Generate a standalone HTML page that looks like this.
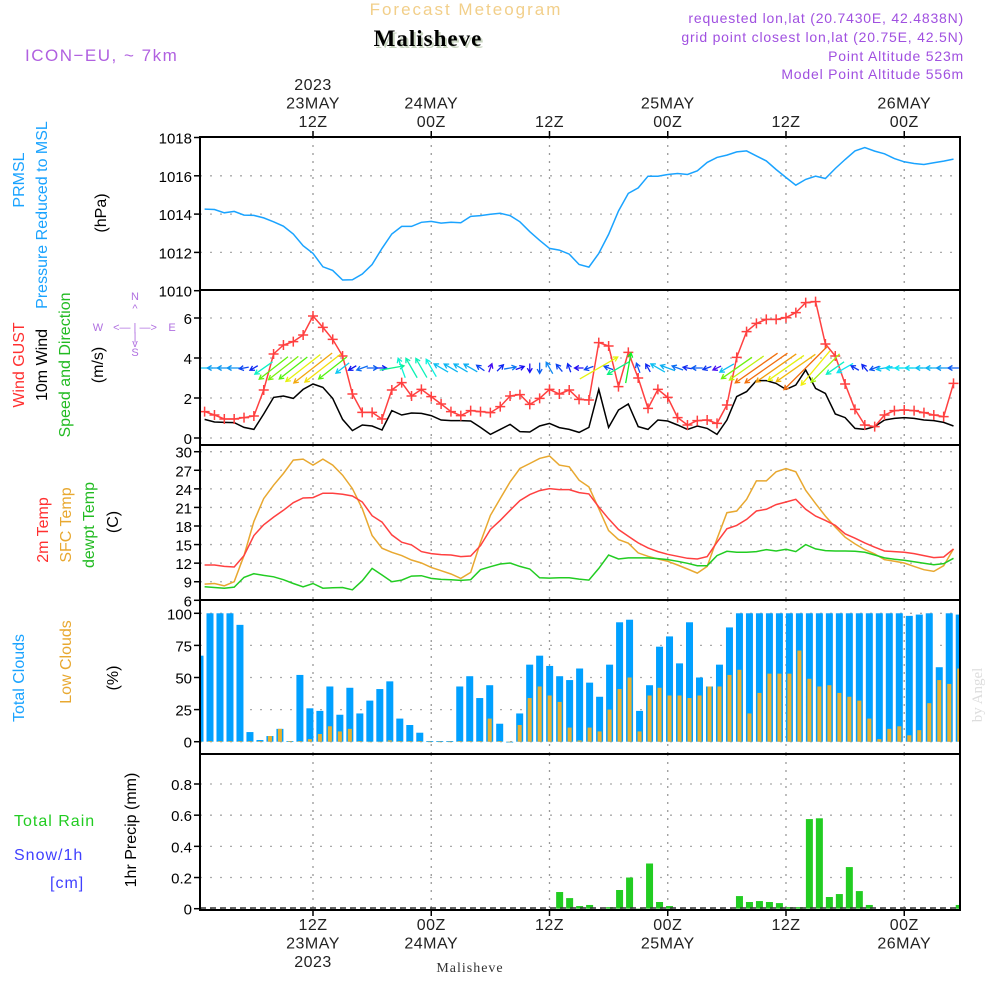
<!DOCTYPE html>
<html><head><meta charset="utf-8"><style>
body{margin:0;background:#fff;}
svg text{font-family:"Liberation Sans",sans-serif;}
</style></head><body>
<svg id="chart" width="1000" height="1000" viewBox="0 0 1000 1000" xmlns="http://www.w3.org/2000/svg">
<g>
<text x="466" y="15" text-anchor="middle" font-size="17" fill="#f2cf8a" letter-spacing="2">Forecast Meteogram</text>
<text x="430" y="48" text-anchor="middle" font-size="23" font-weight="bold" style="font-family:'Liberation Serif',serif" fill="#c8d4c0" letter-spacing="1">Malisheve</text>
<text x="428" y="46" text-anchor="middle" font-size="23" font-weight="bold" style="font-family:'Liberation Serif',serif" fill="#000" letter-spacing="1">Malisheve</text>
<text x="25" y="61" font-size="17" fill="#b060e0" letter-spacing="1.5">ICON−EU, ~ 7km</text>
<g font-size="14" fill="#a050e0" text-anchor="end" letter-spacing="0.8">
<text x="964" y="23">requested lon,lat (20.7430E, 42.4838N)</text>
<text x="964" y="42">grid point closest lon,lat (20.75E, 42.5N)</text>
<text x="964" y="61">Point Altitude 523m</text>
<text x="964" y="79">Model Point Altitude 556m</text>
</g>
</g>
<g id="plot"></g>
</svg>
<script>
const hours=[];for(let h=1;h<=77;h++)hours.push(h);
const pressure=[1014.26,1014.24,1014.07,1014.14,1013.95,1013.93,1013.8,1013.6,1013.37,1012.96,1012.35,1011.95,1011.25,1011.06,1010.56,1010.57,1010.87,1011.37,1012.21,1012.96,1013.36,1013.36,1013.57,1013.62,1013.53,1013.57,1013.55,1013.88,1013.92,1013.99,1014.04,1013.92,1013.6,1013.08,1012.63,1012.21,1012.12,1011.91,1011.37,
1011.23,1011.95,1012.94,1014.16,1015.08,1015.37,1015.98,1015.98,1016.07,1016.12,1016.07,1016.26,1016.7,1016.96,1017.08,1017.25,1017.3,1017.04,1016.78,1016.33,1015.91,1015.51,1015.81,1015.98,1015.86,1016.38,1016.85,1017.3,1017.48,1017.29,1017.15,1016.9,1016.73,1016.64,1016.59,1016.68,1016.77,1016.87];
const gust=[1.32,1.15,0.95,0.95,1.02,1.1,2.4,4.2,4.65,4.82,5.15,6.1,5.53,4.93,4.1,2.2,1.28,1.28,0.95,2.4,2.77,2.1,2.43,2.07,1.7,1.32,1.12,1.37,1.32,1.27,1.57,2.1,2.17,1.68,1.98,2.43,2.2,2.4,1.93,
1.9,4.77,4.6,2.57,4.28,3.0,1.48,2.43,2.03,1.02,0.65,0.87,0.9,0.73,1.65,4.03,5.32,5.73,5.93,5.93,6.02,6.27,6.77,6.82,4.7,4.1,2.7,1.43,0.65,0.57,1.15,1.37,1.4,1.37,1.27,1.15,1.07,2.73];
const wind=[0.93,0.8,0.78,0.77,0.53,0.43,1.2,2.03,2.1,1.98,2.43,2.7,2.53,1.98,0.93,0.37,0.65,0.6,0.4,1.37,1.15,1.25,1.23,1.12,0.9,0.87,0.87,0.85,0.53,0.18,0.43,0.68,0.32,0.3,0.6,0.73,0.52,0.43,0.28,
0.53,2.43,0.53,1.4,1.7,0.57,0.43,0.9,0.85,0.65,0.43,0.6,0.48,0.18,0.9,2.07,2.32,2.87,2.87,2.73,2.43,2.65,3.4,2.48,2.23,1.2,1.02,0.48,0.43,0.57,0.9,0.98,1.02,0.98,0.9,0.87,0.78,0.6];
const windDir=[270,270,270,270,260,240,235,232,232,232,232,232,232,232,232,240,250,90,90,80,340,330,330,330,300,300,300,300,305,20,45,80,70,180,180,330,320,340,
270,250,60,290,240,10,340,330,300,290,290,280,270,250,245,240,235,235,235,235,235,235,235,225,220,225,235,240,300,320,250,260,270,270,270,270,270,270,270];
const temp2m=[11.7,11.7,11.48,11.38,13.22,16.46,18.2,19.44,20.53,21.77,22.53,22.58,23.29,23.29,23.12,22.85,21.88,19.66,18.63,16.57,15.38,14.95,13.86,13.54,13.38,13.32,13.05,13.16,14.84,17.44,18.9,20.53,22.1,23.07,23.72,24.04,23.88,23.88,23.39,
23.18,21.07,19.17,17.44,16.36,15.27,14.46,13.87,13.43,13.11,12.78,12.67,13.05,15.38,17.55,18.09,19.06,20.42,20.69,21.45,21.88,22.31,20.69,19.6,18.9,18.09,16.74,16.03,15.27,14.57,13.97,13.87,13.76,13.54,13.22,12.89,13.0,14.3];
const tempSfc=[8.61,8.72,8.34,9.0,13.22,18.74,22.42,24.59,26.48,28.65,28.81,27.83,28.81,27.83,26.21,24.04,20.8,16.46,14.41,13.76,13.22,12.51,12.02,11.32,10.78,10.24,9.53,10.51,15.38,19.71,22.42,25.13,27.29,28.1,28.92,29.3,27.83,27.56,25.4,
24.32,20.8,17.28,15.81,15.22,13.65,13.11,12.67,12.3,11.7,11.05,10.4,11.48,15.92,20.15,20.42,22.31,25.29,25.29,26.75,27.29,26.75,23.77,21.61,19.6,17.82,16.19,15.11,14.19,13.49,12.57,12.3,12.02,11.48,10.94,10.67,11.59,14.3];
const dewpt=[8.18,8.07,7.96,8.13,9.7,10.29,10.02,9.8,9.32,8.72,8.18,8.72,7.96,8.02,8.07,7.69,9.16,11.16,10.08,9.0,9.26,9.91,9.97,9.53,9.37,9.32,9.21,9.32,10.94,11.43,11.86,12.02,11.48,11.05,9.64,9.59,9.64,9.64,9.43,
9.26,11.16,13.32,12.67,12.84,12.84,12.84,12.73,12.57,12.3,11.97,11.59,11.59,13.22,13.92,13.76,13.76,13.87,14.19,13.97,14.24,13.87,15.0,14.3,14.03,13.97,13.97,13.92,13.76,13.32,12.84,12.62,12.46,12.24,11.97,11.75,11.92,12.78];
const cloudTotal=[67,100,100,100,91,7.5,1.3,4.4,10,0.5,52,26,24,43,21,42,22,32,41,47,18,13,7,0.5,0.5,0.5,43,51,34,44,14,0,22,60,67,59,51,48,57,
46,35,60,93,95,24,44,74,82,61,93,50,43,60,89,100,100,100,100,100,100,100,100,100,100,100,100,100,100,100,100,100,98,99,100,58,100,99];
const cloudLow=[0,0.5,0.5,0.5,0.5,0.5,0.5,4.4,10,0.5,0.5,2,6,12,8,10,0.5,0,0,1,0.5,0.5,0.5,0,0,0,0.5,0.5,0.5,18,0.5,0,13,34,43,36,31,11,1,
11,8,25,41,50,8,36,42,36,36,34,36,43,43,52,56,22,38,53,53,53,71,49,43,44,38,35,32,18,2,10,12,5,9,30,48,45,57];
const precip=[0,0,0,0,0,0,0,0,0,0,0,0,0,0,0,0,0,0,0,0,0,0,0,0,0,0,0,0,0,0,0,0,0,0,0,0,
0.107,0.068,0.017,0.024,0,0.01,0.12,0.2,0.002,0.29,0.043,0.017,0,0,0,0,0,0,0.081,0.043,0.049,0.043,0.036,0.01,0.01,0.575,0.58,0.075,0.094,0.267,0.113,0.024,0,0,0,0,0,0,0,0,0.024];
const pTicks=[1010,1012,1014,1016,1018];
const wTicks=[0,2,4,6];
const tTicks=[6,9,12,15,18,21,24,27,30];
const cTicks=[0,25,50,75,100];
const rTicks=[0,0.2,0.4,0.6,0.8];

const NS='http://www.w3.org/2000/svg';
const plot=document.getElementById('plot');
function mk(tag,attrs,parent){const e=document.createElementNS(NS,tag);for(const k in attrs)e.setAttribute(k,attrs[k]);(parent||plot).appendChild(e);return e;}
const L=200,R=960;
function xh(h){return 313+(h-12)*9.854;}
function bx(k){return 200+k*9.99;}
function lin(v0,y0,v1,y1){return v=>y0+(v-v0)*(y1-y0)/(v1-v0);}
const yP=lin(1010,290.7,1018,137.5);
const yW=lin(0,438,6,318);
const yT=lin(30,451.7,6,600.3);
const yC=lin(0,741.7,100,613.3);
const yR=lin(0,908.7,0.8,784);
const panels=[{n:'pressure',t:137,b:290},{n:'wind',t:290,b:445},{n:'temperature',t:445,b:600},{n:'clouds',t:600,b:754},{n:'precip',t:754,b:910}];
const defsEl=mk('defs',{});
panels.forEach(p=>{const c=mk('clipPath',{id:'clip-'+p.n},defsEl);mk('rect',{x:L,y:p.t,width:R-L,height:p.b-p.t},c);});

function grid(p,ticks,yf,fmt){
  const g=mk('g',{});
  
  
  ticks.forEach(t=>{const y=yf(t);
    if(y>p.t+1&&y<p.b-1){mk('line',{x1:L,x2:R,y1:y,y2:y,stroke:'#aaa','stroke-dasharray':'2,8','stroke-width':1.3},g);}
    const tx=mk('text',{x:192,y:y+6,'text-anchor':'end','font-size':15,fill:'#000'},g);
    
    
    tx.textContent=fmt?fmt(t):t;
    mk('line',{x1:L-6,x2:L,y1:y,y2:y,stroke:'#000','stroke-width':1.5},g);
  });
  [12,24,36,48,60,72].forEach(h=>{mk('line',{x1:xh(h),x2:xh(h),y1:p.t,y2:p.b,stroke:'#999','stroke-dasharray':'2,6','stroke-width':1.3},g);});
}
const gP=panels[0],gW=panels[1],gT=panels[2],gC=panels[3],gR=panels[4];
grid(gP,pTicks,yP);grid(gW,wTicks,yW);grid(gT,tTicks,yT);grid(gC,cTicks,yC);grid(gR,rTicks,yR,t=>t===0?'0':String(t));

function line(arr,yf,color,name,p){
  const pts=arr.map((v,i)=>xh(hours[i]).toFixed(1)+','+yf(v).toFixed(1)).join(' ');
  const pl=mk('polyline',{points:pts,fill:'none',stroke:color,'stroke-width':1.5,'clip-path':'url(#clip-'+p.n+')'});
  
  
  return pl;
}
line(pressure,yP,'#1aa3ff','pressure-line',gP);
line(wind,yW,'#000','wind-speed-line',gW);
line(gust,yW,'#ff4040','gust-line',gW);
const gm=mk('g',{'clip-path':'url(#clip-wind)'});


gust.forEach((v,i)=>{const x=xh(hours[i]),y=yW(v);
  mk('path',{d:`M${x-5},${y}h10M${x},${y-5}v10`,stroke:'#ff4040','stroke-width':1.5},gm);});
const ga=mk('g',{'clip-path':'url(#clip-wind)'});


windDir.forEach((d,i)=>{
  const s=wind[i];const len=Math.max(9,s*18);const a=d*Math.PI/180;
  const dx=Math.sin(a)*len,dy=-Math.cos(a)*len;const cx=xh(hours[i]),cy=368;
  const x1=cx-dx/2,y1=cy-dy/2,x2=cx+dx/2,y2=cy+dy/2;
  const hue=Math.max(25,270-s*85);const col=`hsl(${hue},90%,50%)`;
  const ux=dx/len,uy=dy/len;const hl=5;
  const h1x=x2-hl*(ux*0.87-uy*0.5),h1y=y2-hl*(uy*0.87+ux*0.5);
  const h2x=x2-hl*(ux*0.87+uy*0.5),h2y=y2-hl*(uy*0.87-ux*0.5);
  const ar=mk('path',{d:`M${x1},${y1}L${x2},${y2}M${h1x},${h1y}L${x2},${y2}L${h2x},${h2y}`,stroke:col,fill:'none','stroke-width':1.3},ga);
  
  
});
line(tempSfc,yT,'#e8a830','sfc-temp-line',gT);
line(temp2m,yT,'#ff4040','temp-2m-line',gT);
line(dewpt,yT,'#22cc22','dewpoint-line',gT);
const gcb=mk('g',{'clip-path':'url(#clip-clouds)'});


cloudTotal.forEach((v,k)=>{const x=bx(k),y=yC(v);
  const r=mk('rect',{x:x-3.5,y:y,width:7,height:Math.max(0.8,yC(0)-y),fill:'#00a0ff'},gcb);
  
  });
cloudLow.forEach((v,k)=>{const x=bx(k),y=yC(v);
  const r=mk('rect',{x:x-2,y:y,width:4,height:Math.max(0.5,yC(0)-y),fill:'#e8b030'},gcb);
  
  });
const gpb=mk('g',{'clip-path':'url(#clip-precip)'});


precip.forEach((v,k)=>{if(v<=0)return;const x=bx(k),y=yR(v);
  const r=mk('rect',{x:x-3.5,y:y,width:7,height:yR(0)-y,fill:'#22cc22'},gpb);
  
  });
mk('line',{x1:L,x2:R,y1:908,y2:908,stroke:'#333','stroke-width':1.5,'stroke-dasharray':'6,4'});
panels.forEach(p=>{const r=mk('rect',{x:L,y:p.t,width:R-L,height:p.b-p.t,fill:'none',stroke:'#000','stroke-width':2});
  
  });
const topLabels=[[12,['2023','23MAY','12Z']],[24,['24MAY','00Z']],[36,['12Z']],[48,['25MAY','00Z']],[60,['12Z']],[72,['26MAY','00Z']]];
topLabels.forEach(([h,ls])=>{const x=xh(h);
  ls.forEach((s,j)=>{const t=mk('text',{x:x,y:127-(ls.length-1-j)*18.5,'text-anchor':'middle','font-size':16,fill:'#222','letter-spacing':'0.5'});
    
    
    t.textContent=s;});
  mk('line',{x1:x,x2:x,y1:131,y2:137,stroke:'#000','stroke-width':1.5});
});
const botLabels=[[12,['12Z','23MAY','2023']],[24,['00Z','24MAY']],[36,['12Z']],[48,['00Z','25MAY']],[60,['12Z']],[72,['00Z','26MAY']]];
botLabels.forEach(([h,ls])=>{const x=xh(h);
  ls.forEach((s,j)=>{const t=mk('text',{x:x,y:930+j*18.5,'text-anchor':'middle','font-size':16,fill:'#222','letter-spacing':'0.5'});
    
    
    t.textContent=s;});
  mk('line',{x1:x,x2:x,y1:910,y2:916,stroke:'#000','stroke-width':1.5});
});
function vt(x,y,s,col,name,fs){const t=mk('text',{x:0,y:0,transform:`translate(${x},${y}) rotate(-90)`,'text-anchor':'middle','font-size':fs||16,fill:col});
  
  
  t.textContent=s;return t;}
vt(24,180,'PRMSL','#1aa3ff','pressure-title-1');
vt(47,215,'Pressure Reduced to MSL','#1aa3ff','pressure-title-2');
vt(106,213,'(hPa)','#000','pressure-unit');
vt(24,365,'Wind GUST','#ff3030','gust-title');
vt(47,365,'10m Wind','#000','wind-title');
vt(70,365,'Speed and Direction','#22bb22','wind-dir-title');
vt(103,365,'(m/s)','#000','wind-unit');
vt(48,530,'2m Temp','#ff3030','temp-2m-title');
vt(71,525,'SFC Temp','#e8a830','sfc-temp-title');
vt(94,525,'dewpt Temp','#22bb22','dewpt-title');
vt(118,522,'(C)','#000','temp-unit');
vt(24,678,'Total Clouds','#1aa3ff','total-cloud-title');
vt(71,662,'Low Clouds','#e8a830','low-cloud-title');
vt(118,678,'(%)','#000','cloud-unit');
vt(136,830,'1hr Precip (mm)','#000','precip-title');
const compassG=mk('g',{'font-size':11,fill:'#b070e0','text-anchor':'middle'});


[['N',135,300],['W',98,331],['E',172,331],['S',135,356],['^',135,312],['<— | —>',135,331],['|',135,340],['v',135,347]].forEach(([s,x,y])=>{const t=mk('text',{x:x,y:y},compassG);t.textContent=s;});
[['Total  Rain','#22cc22',14,826],['Snow/1h','#4040ff',14,860],['[cm]','#4040ff',50,888]].forEach(([s,col,x,y])=>{const t=mk('text',{x:x,y:y,'font-size':16,fill:col,'letter-spacing':'1'});
  
  
  t.textContent=s;});
const ft=mk('text',{x:470,y:972,'text-anchor':'middle','font-size':14,fill:'#333','letter-spacing':'1',style:"font-family:'Liberation Serif',serif"});


ft.textContent='Malisheve';
const by=mk('text',{x:0,y:0,transform:'translate(982,695) rotate(-90)','text-anchor':'middle','font-size':15,fill:'#ddd',style:"font-family:'Liberation Serif',serif"});


by.textContent='by Angel';
</script>
</body></html>
